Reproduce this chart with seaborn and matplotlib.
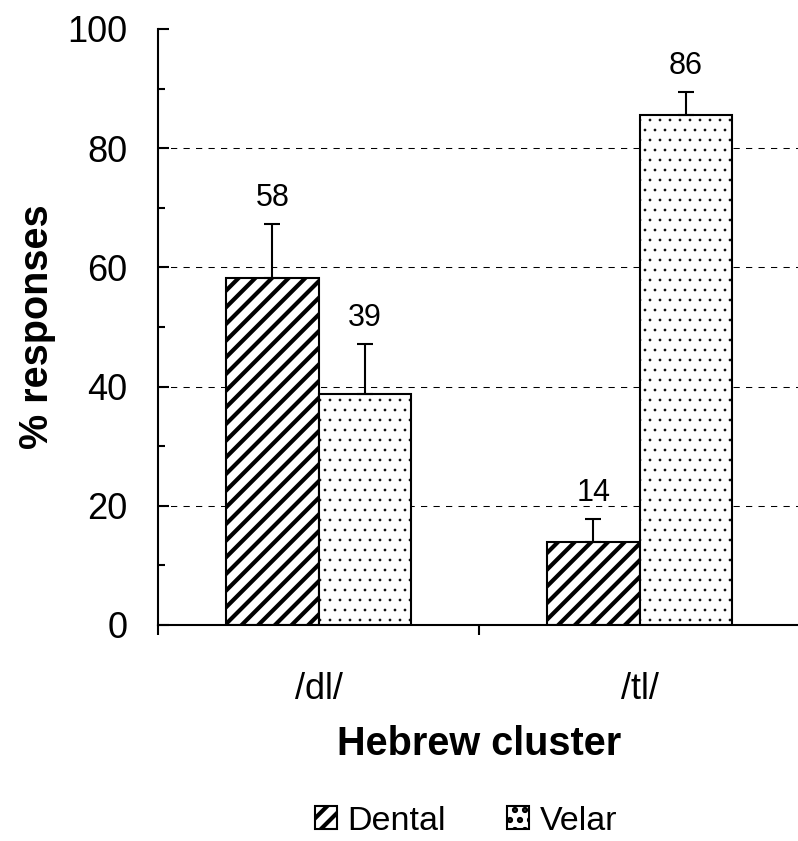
import numpy as np
import pandas as pd
import matplotlib
matplotlib.use('Agg')
import matplotlib.pyplot as plt
import matplotlib.hatch as mhatch
import seaborn as sns
from matplotlib.ticker import MultipleLocator, FixedLocator

# ---- data ----
clusters = ['/dl/', '/tl/']
types = ['Dental', 'Velar']
dental = [58.3, 13.9]
velar = [38.7, 85.6]
dental_err = [8.9, 3.9]
velar_err = [8.4, 3.9]
dental_lab = ['58', '14']
velar_lab = ['39', '86']


# sparser dot hatch (style only)
class DotHatch(mhatch.Circles):
    size = 0.1
    filled = True

    def __init__(self, hatch, density):
        self.num_rows = hatch.count('.') * 10
        super().__init__(hatch, density)


try:
    mhatch._hatch_types = [DotHatch if t is mhatch.SmallFilledCircles else t
                           for t in mhatch._hatch_types]
except Exception:
    pass

sns.set_theme(style='white')
plt.rcParams['font.family'] = ['Liberation Sans', 'DejaVu Sans']
plt.rcParams['hatch.linewidth'] = 3.0
plt.rcParams['hatch.color'] = 'black'
for k in ['text.color', 'axes.labelcolor', 'xtick.color', 'ytick.color', 'axes.edgecolor']:
    plt.rcParams[k] = 'black'

df = pd.DataFrame({
    'cluster': clusters * 2,
    'type': [types[0]] * 2 + [types[1]] * 2,
    'pct': dental + velar,
})
errs = [dental_err, velar_err]
labs = [dental_lab, velar_lab]
hatches = ['//', '.']
hatch_lw = [3.0, 0.5]

fig = plt.figure(figsize=(7.98, 8.41), dpi=100)
ax = fig.add_axes([158 / 798, 1 - 625 / 841, 642 / 798, 596 / 841])
sns.barplot(data=df, x='cluster', y='pct', hue='type', order=clusters,
            hue_order=types, palette=['white', 'white'], saturation=1,
            width=0.575, errorbar=None, edgecolor='black', linewidth=1.5,
            legend=False, ax=ax, zorder=2)

bar_conts = list(ax.containers)
for i, cont in enumerate(bar_conts):
    xs, ys = [], []
    for p in cont.patches:
        p.set_hatch(hatches[i])
        if hasattr(p, 'set_hatch_linewidth'):
            p.set_hatch_linewidth(hatch_lw[i])
        xs.append(p.get_x() + p.get_width() / 2)
        ys.append(p.get_height())
    e = errs[i]
    ax.errorbar(xs, ys, yerr=[[0] * len(e), e], fmt='none', ecolor='black',
                elinewidth=1.5, capsize=6, capthick=1.5, zorder=3)
    for x, y, ee, lab in zip(xs, ys, e, labs[i]):
        ax.annotate(lab, (x, y + ee), xytext=(0, 13), textcoords='offset points',
                    ha='center', va='baseline', fontsize=22)

ax.set_ylim(0, 100)
ax.set_xlim(-0.5, 1.5)
ax.yaxis.set_major_locator(MultipleLocator(20))
ax.yaxis.set_minor_locator(MultipleLocator(10))
ax.xaxis.set_minor_locator(FixedLocator([-0.5, 0.5, 1.5]))

ax.tick_params(axis='y', which='major', direction='in', length=8, width=1.5,
               labelsize=26, pad=22, left=True)
ax.tick_params(axis='y', which='minor', direction='in', length=5, width=1.5, left=True)
ax.tick_params(axis='x', which='major', length=0, labelsize=26, pad=34)
ax.tick_params(axis='x', which='minor', direction='out', length=7, width=1.5, bottom=True)

ax.set_axisbelow(True)
ax.yaxis.grid(True, which='major', linestyle=(0, (6, 6)), linewidth=0.75, color='black')
ax.xaxis.grid(False)
for tick, val in zip(ax.yaxis.get_major_ticks(), ax.get_yticks()):
    if val <= 0 or val >= 100:
        tick.gridline.set_visible(False)

for s in ['top', 'right']:
    ax.spines[s].set_visible(False)
for s in ['left', 'bottom']:
    ax.spines[s].set_linewidth(1.5)
    ax.spines[s].set_color('black')

ax.set_ylabel('% responses', fontsize=28.5, fontweight='bold', labelpad=8)
ax.set_xlabel('Hebrew cluster', fontsize=28.5, fontweight='bold', labelpad=13)

fig.legend(bar_conts, types, loc='center',
           bbox_to_anchor=(466 / 798, 1 - 821 / 841), ncol=2, frameon=False,
           fontsize=24.5, handlelength=0.65, handleheight=0.65, handletextpad=0.3,
           columnspacing=1.8, borderpad=0)

fig.savefig('out.png', dpi=100)
